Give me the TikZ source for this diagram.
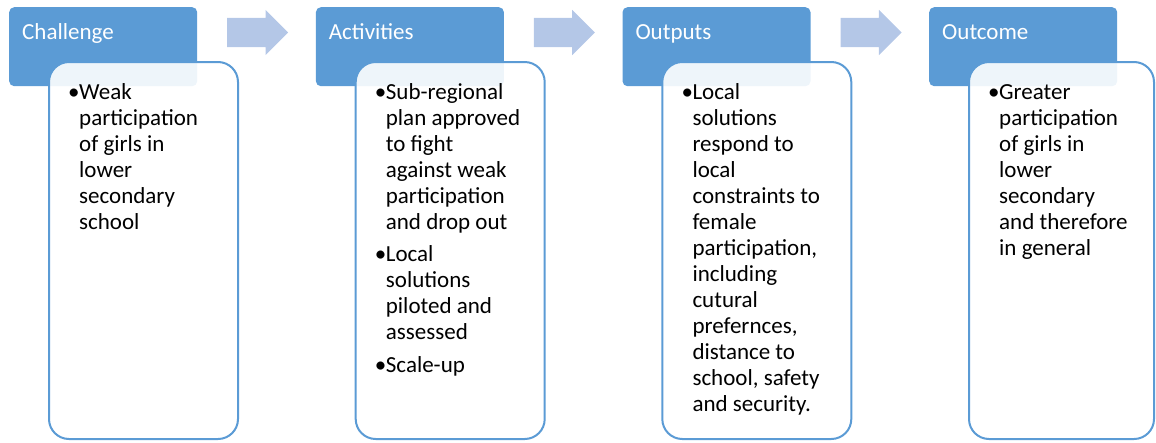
\documentclass[tikz,border=0pt]{standalone}
\usepackage{fontspec}
\setmainfont{Carlito}
\usetikzlibrary{shapes.arrows}
\definecolor{hdrblue}{HTML}{5B9BD5}
\definecolor{arrblue}{HTML}{B4C7E7}
% bullet list: bullet column + text column, one row per printed line
\newenvironment{blist}{\begin{tabular}[t]{@{}p{11pt}@{}l@{}}}{\end{tabular}}

\begin{document}
\begin{tikzpicture}[x=1pt,y=-1pt,
font=\fontsize{23}{26}\selectfont,
hdr/.style={fill=hdrblue, rounded corners=5pt, text=white, anchor=north west,
    inner xsep=13pt, inner ysep=0pt, text width=162pt, align=left,
    text height=32.5pt, text depth=46.5pt},
body/.style={draw=hdrblue, line width=2pt, fill=white, fill opacity=0.9,
    rounded corners=20pt, anchor=north west, minimum width=189pt,
    minimum height=377pt, inner sep=0pt},
bodytext/.style={anchor=base west, inner sep=0pt},
nextarrow/.style={single arrow, fill=arrblue, minimum height=61pt, inner xsep=0pt,
    inner ysep=14.5pt, single arrow head extend=8pt, anchor=tail}]
\useasboundingbox (0,0) rectangle (1156,442);

% headers
\node[hdr] (hd1) at (9,7) {Challenge};
\node[hdr] (hd2) at (315.7,7) {Activities};
\node[hdr] (hd3) at (622.3,7) {Outputs};
\node[hdr] (hd4) at (929,7) {Outcome};

% arrows between the stages
\node[nextarrow] (arr1) at (227,32.5) {};
\node[nextarrow] (arr2) at (533.7,32.5) {};
\node[nextarrow] (arr3) at (840.3,32.5) {};

% content boxes
\node[body] (bd1) at (48,61) {};
\node[body] (bd2) at (354.7,61) {};
\node[body] (bd3) at (661.3,61) {};
\node[body, minimum width=185pt] (bd4) at (968,61) {};

\node[bodytext] (tx1) at ([shift={(20,38)}]bd1.north west) {\begin{blist}
\textbullet & Weak\\ & participation\\ & of girls in\\ & lower\\ & secondary\\ & school
\end{blist}};
\node[bodytext] (tx2) at ([shift={(20,38)}]bd2.north west) {\begin{blist}
\textbullet & Sub-regional\\ & plan approved\\ & to fight\\ & against weak\\ & participation\\ & and drop out\\[6.5pt]
\textbullet & Local\\ & solutions\\ & piloted and\\ & assessed\\[6.5pt]
\textbullet & Scale-up
\end{blist}};
\node[bodytext] (tx3) at ([shift={(20,38)}]bd3.north west) {\begin{blist}
\textbullet & Local\\ & solutions\\ & respond to\\ & local\\ & constraints to\\ & female\\ & participation,\\ & including\\ & cutural\\ & prefernces,\\ & distance to\\ & school, safety\\ & and security.
\end{blist}};
\node[bodytext] (tx4) at ([shift={(20,38)}]bd4.north west) {\begin{blist}
\textbullet & Greater\\ & participation\\ & of girls in\\ & lower\\ & secondary\\ & and therefore\\ & in general
\end{blist}};
\end{tikzpicture}
\end{document}
